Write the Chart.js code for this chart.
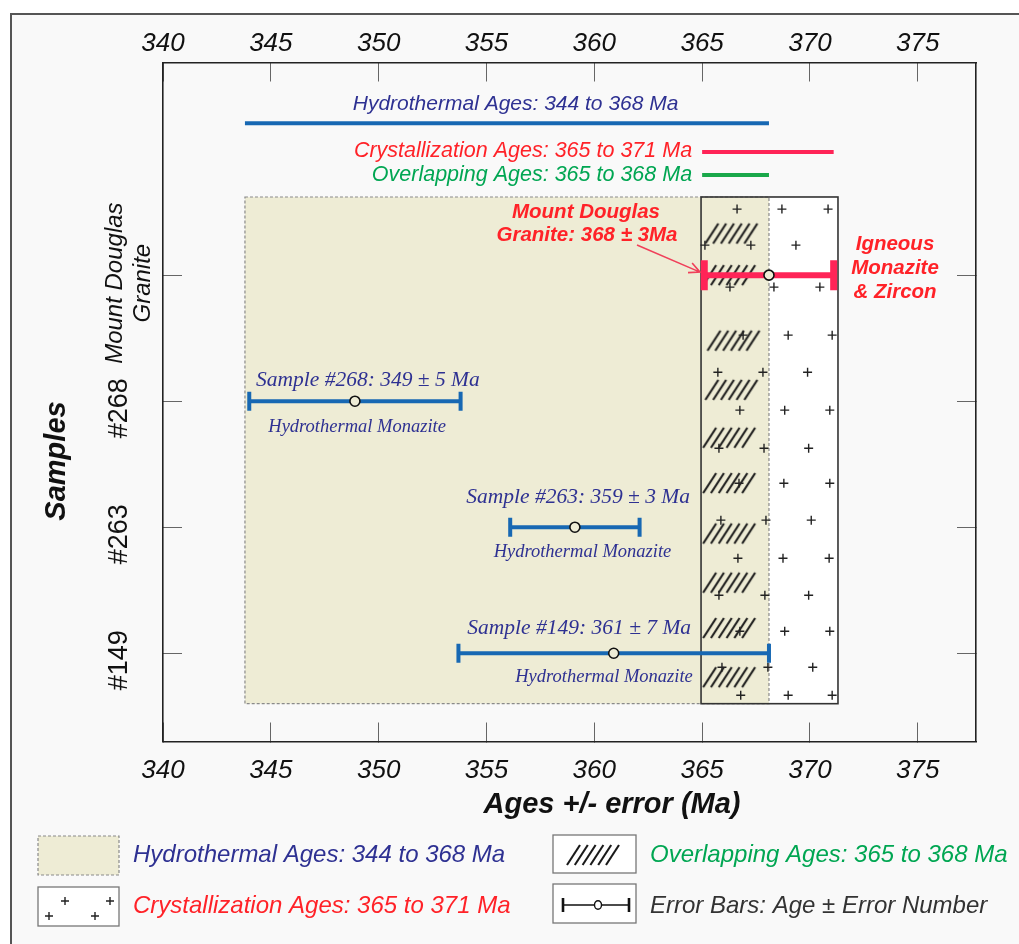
<!DOCTYPE html>
<html>
<head>
<meta charset="utf-8">
<title>Mount Douglas Granite ages</title>
<script src="https://cdn.jsdelivr.net/npm/chart.js@4.4.0/dist/chart.umd.min.js"></script>
<style>
  html, body { margin: 0; padding: 0; background: #fff; }
  canvas { display: block; }
</style>
</head>
<body>
<canvas id="age-chart" width="1019" height="944"></canvas>
<script>
// Axis ticks
const xTicks = [340, 345, 350, 355, 360, 365, 370, 375];
const rowTicks = [1, 2, 3, 4];
const rowLabels = ['#149', '#263', '#268', ['Mount Douglas', 'Granite']];

// Samples: Mount Douglas Granite, #268, #263, #149
const sampleRow = [4, 3, 2, 1];
const sampleAge = [368.1, 348.9, 359.1, 360.9];
const sampleErr = [3.0, 4.9, 3.0, 7.2];

// Age ranges (Ma)
const hydroRange = [343.8, 368.1];
const crystRange = [365.0, 371.1];
const overlapRange = [365.0, 368.1];
const rangeRow = [5.206, 4.976, 4.794];   // hydro, cryst, overlap lines

// Shaded boxes
const hydroBox = [343.8, 368.1];
const crystBox = [364.95, 371.3];
const boxRows = [0.60, 4.62];

// "//////" clusters in the overlap column
const hatchX = [366.4, 366.3, 366.5, 366.4, 366.3, 366.3, 366.3, 366.3, 366.3, 366.3];
const hatchY = [4.33, 4.00, 3.48, 3.09, 2.71, 2.35, 1.95, 1.56, 1.20, 0.81];

// "+" marks in the crystallization box
const crossX = [
  366.62, 368.70, 370.84,
  365.13, 367.26, 369.35,
  366.29, 368.33, 370.46,
  366.90, 368.99, 371.03,
  365.73, 367.82, 369.89,
  366.75, 368.83, 370.92,
  365.78, 367.87, 369.94,
  366.71, 368.79, 370.92,
  365.87, 367.96, 370.06,
  366.66, 368.75, 370.89,
  365.78, 367.91, 369.94,
  366.75, 368.83, 370.92,
  365.92, 368.05, 370.13,
  366.79, 368.99, 371.03
];
const crossY = [
  4.524, 4.524, 4.524,
  4.238, 4.238, 4.238,
  3.905, 3.905, 3.905,
  3.524, 3.524, 3.524,
  3.230, 3.230, 3.230,
  2.929, 2.929, 2.929,
  2.627, 2.627, 2.627,
  2.349, 2.349, 2.349,
  2.056, 2.056, 2.056,
  1.754, 1.754, 1.754,
  1.460, 1.460, 1.460,
  1.175, 1.175, 1.175,
  0.889, 0.889, 0.889,
  0.667, 0.667, 0.667
];

const NAVY = '#2e3192';
const BLUE = '#1768b3';
const RED_TXT = '#ff2228';
const RED_BAR = '#ff2457';
const GREEN_TXT = '#00a652';
const GREEN_LINE = '#1aa84a';
const BEIGE = '#eeecd5';
const BG = '#f9f9f9';
const SANS = '"Liberation Sans", Arial, sans-serif';
const SERIF = '"Liberation Serif", "Times New Roman", serif';

function makeHatch() {
  const c = document.createElement('canvas');
  c.width = 58; c.height = 24;
  const g = c.getContext('2d');
  g.strokeStyle = '#1a1a1a';
  g.lineWidth = 2.1;
  for (let i = 0; i < 6; i++) {
    const x0 = 2 + i * 7.8;
    g.beginPath();
    g.moveTo(x0, 22);
    g.lineTo(x0 + 13, 2);
    g.stroke();
  }
  return c;
}
const hatchImg = makeHatch();

function txt(ctx, s, x, y, font, color, align) {
  ctx.font = font;
  ctx.fillStyle = color;
  ctx.textAlign = align || 'center';
  ctx.textBaseline = 'middle';
  ctx.fillText(s, x, y);
}
function rtxt(ctx, s, x, y, font, color) {
  ctx.save();
  ctx.translate(x, y);
  ctx.rotate(-Math.PI / 2);
  txt(ctx, s, 0, 0, font, color);
  ctx.restore();
}

// error bar datasets
const barSets = sampleAge.map((a, i) => {
  const igneous = i === 0;
  const c = igneous ? RED_BAR : BLUE;
  return {
    type: 'line',
    data: [{ x: a - sampleErr[i], y: sampleRow[i] }, { x: a + sampleErr[i], y: sampleRow[i] }],
    borderColor: c,
    borderWidth: igneous ? 6 : 4,
    pointStyle: 'line',
    pointRotation: 90,
    pointRadius: igneous ? 15 : 9.5,
    pointBorderWidth: igneous ? 7 : 4,
    pointBorderColor: c,
    borderCapStyle: 'butt'
  };
});

function rangeLine(range, row, color) {
  return {
    type: 'line',
    data: [{ x: range[0], y: row }, { x: range[1], y: row }],
    borderColor: color,
    borderWidth: 4,
    pointRadius: 0
  };
}

const frame = {
  id: 'frame',
  beforeDraw(chart) {
    const ctx = chart.ctx;
    ctx.save();
    ctx.fillStyle = '#fff';
    ctx.fillRect(0, 0, chart.width, chart.height);
    ctx.fillStyle = BG;
    ctx.fillRect(11, 14, chart.width, chart.height);
    ctx.strokeStyle = '#555';
    ctx.lineWidth = 2;
    ctx.strokeRect(11, 14, chart.width + 20, chart.height + 20);
    ctx.restore();
  },
  beforeDatasetsDraw(chart) {
    const ctx = chart.ctx, xs = chart.scales.x, ys = chart.scales.y;
    const top = ys.getPixelForValue(boxRows[1]), bot = ys.getPixelForValue(boxRows[0]);
    const cx0 = xs.getPixelForValue(crystBox[0]), cx1 = xs.getPixelForValue(crystBox[1]);
    const hx0 = xs.getPixelForValue(hydroBox[0]), hx1 = xs.getPixelForValue(hydroBox[1]);
    ctx.save();
    ctx.fillStyle = '#fff';
    ctx.fillRect(cx0, top, cx1 - cx0, bot - top);
    ctx.fillStyle = BEIGE;
    ctx.fillRect(hx0, top, hx1 - hx0, bot - top);
    ctx.setLineDash([3, 2]);
    ctx.strokeStyle = '#8a8a8a';
    ctx.lineWidth = 1.2;
    ctx.strokeRect(hx0, top, hx1 - hx0, bot - top);
    ctx.setLineDash([]);
    ctx.strokeStyle = '#333';
    ctx.lineWidth = 1.6;
    ctx.strokeRect(cx0, top, cx1 - cx0, bot - top);
    ctx.restore();
  },
  afterDatasetsDraw(chart) {
    const ctx = chart.ctx, xs = chart.scales.x, ys = chart.scales.y;
    const px = v => xs.getPixelForValue(v), py = v => ys.getPixelForValue(v);
    ctx.save();
    // range labels
    txt(ctx, 'Hydrothermal Ages: 344 to 368 Ma', px(356.35), py(rangeRow[0]) - 19, 'italic 21px ' + SANS, NAVY);
    txt(ctx, 'Crystallization Ages: 365 to 371 Ma', px(crystRange[0]) - 10, py(rangeRow[1]) - 1, 'italic 21.5px ' + SANS, RED_TXT, 'right');
    txt(ctx, 'Overlapping Ages: 365 to 368 Ma', px(overlapRange[0]) - 10, py(rangeRow[2]), 'italic 21.5px ' + SANS, GREEN_TXT, 'right');
    // sample labels
    const f1 = 'italic 21.5px ' + SERIF, f2 = 'italic 18.5px ' + SERIF;
    txt(ctx, 'Sample #268: 349 \u00b1 5 Ma', px(349.5), py(3) - 21, f1, NAVY);
    txt(ctx, 'Hydrothermal Monazite', px(349.0), py(3) + 26, f2, NAVY);
    txt(ctx, 'Sample #263: 359 \u00b1 3 Ma', px(359.25), py(2) - 30, f1, NAVY);
    txt(ctx, 'Hydrothermal Monazite', px(359.45), py(2) + 25, f2, NAVY);
    txt(ctx, 'Sample #149: 361 \u00b1 7 Ma', px(359.3), py(1) - 25, f1, NAVY);
    txt(ctx, 'Hydrothermal Monazite', px(360.45), py(1) + 24, f2, NAVY);
    // igneous labels
    const fb = 'italic bold 20.5px ' + SANS;
    txt(ctx, 'Mount Douglas', 586, 212, fb, RED_TXT);
    txt(ctx, 'Granite: 368 \u00b1 3Ma', 587, 235, fb, RED_TXT);
    txt(ctx, 'Igneous', 895, 244, fb, RED_TXT);
    txt(ctx, 'Monazite', 895, 268, fb, RED_TXT);
    txt(ctx, '& Zircon', 895, 292, fb, RED_TXT);
    // arrow
    const ax0 = 637, ay0 = 245, ax1 = 700, ay1 = py(4) - 3;
    const ang = Math.atan2(ay1 - ay0, ax1 - ax0);
    ctx.strokeStyle = '#f0405a';
    ctx.lineWidth = 1.6;
    ctx.beginPath();
    ctx.moveTo(ax0, ay0); ctx.lineTo(ax1, ay1);
    ctx.moveTo(ax1 - 12 * Math.cos(ang - 0.45), ay1 - 12 * Math.sin(ang - 0.45));
    ctx.lineTo(ax1, ay1);
    ctx.lineTo(ax1 - 12 * Math.cos(ang + 0.45), ay1 - 12 * Math.sin(ang + 0.45));
    ctx.stroke();
    ctx.restore();
  },
  afterDraw(chart) {
    const ctx = chart.ctx, ys = chart.scales.y;
    ctx.save();
    // y tick labels (rotated)
    rowTicks.forEach((v, i) => {
      const lab = rowLabels[i];
      const y = ys.getPixelForValue(v);
      if (Array.isArray(lab)) {
        rtxt(ctx, lab[0], 115, y + 8, 'italic 24px ' + SANS, '#111');
        rtxt(ctx, lab[1], 143, y + 8, 'italic 24px ' + SANS, '#111');
      } else {
        rtxt(ctx, lab, 120, y + 7, '27px ' + SANS, '#111');
      }
    });
    rtxt(ctx, 'Samples', 57, 461, 'italic bold 29px ' + SANS, '#111');
    txt(ctx, 'Ages +/- error (Ma)', 612, 805, 'italic bold 29px ' + SANS, '#111');

    // legend
    const lf = 'italic 24px ' + SANS;
    // hydrothermal box
    ctx.fillStyle = BEIGE;
    ctx.fillRect(38, 836, 81, 39);
    ctx.setLineDash([3, 2]);
    ctx.strokeStyle = '#8a8a8a';
    ctx.lineWidth = 1.2;
    ctx.strokeRect(38, 836, 81, 39);
    ctx.setLineDash([]);
    txt(ctx, 'Hydrothermal Ages: 344 to 368 Ma', 133, 855, lf, NAVY, 'left');
    // crystallization box
    ctx.fillStyle = '#fff';
    ctx.fillRect(38, 887, 81, 39);
    ctx.strokeStyle = '#777';
    ctx.lineWidth = 1.3;
    ctx.strokeRect(38, 887, 81, 39);
    ctx.strokeStyle = '#222';
    ctx.lineWidth = 1.4;
    [[65, 901], [110, 901], [49, 916], [95, 916]].forEach(([cx, cy]) => {
      ctx.beginPath();
      ctx.moveTo(cx - 4, cy); ctx.lineTo(cx + 4, cy);
      ctx.moveTo(cx, cy - 4); ctx.lineTo(cx, cy + 4);
      ctx.stroke();
    });
    txt(ctx, 'Crystallization Ages: 365 to 371 Ma', 133, 906, lf, RED_TXT, 'left');
    // overlap box
    ctx.fillStyle = '#fff';
    ctx.fillRect(553, 835, 83, 38);
    ctx.strokeStyle = '#777';
    ctx.lineWidth = 1.3;
    ctx.strokeRect(553, 835, 83, 38);
    ctx.drawImage(hatchImg, 565, 843);
    txt(ctx, 'Overlapping Ages: 365 to 368 Ma', 650, 855, lf, GREEN_TXT, 'left');
    // error bar box
    ctx.fillStyle = '#fff';
    ctx.fillRect(553, 884, 83, 39);
    ctx.strokeStyle = '#777';
    ctx.strokeRect(553, 884, 83, 39);
    ctx.strokeStyle = '#111';
    ctx.lineWidth = 1.6;
    ctx.beginPath();
    ctx.moveTo(563, 905); ctx.lineTo(594, 905);
    ctx.moveTo(602, 905); ctx.lineTo(629, 905);
    ctx.stroke();
    ctx.lineWidth = 2.6;
    ctx.beginPath();
    ctx.moveTo(563, 898); ctx.lineTo(563, 912);
    ctx.moveTo(629, 898); ctx.lineTo(629, 912);
    ctx.stroke();
    ctx.lineWidth = 1.4;
    ctx.beginPath();
    ctx.ellipse(598, 905, 3.5, 4.2, 0, 0, Math.PI * 2);
    ctx.stroke();
    txt(ctx, 'Error Bars: Age \u00b1 Error Number', 650, 906, lf, '#333', 'left');
    ctx.restore();
  }
};

const xAxisBase = (position, pad, h) => ({
  type: 'linear',
  position: position,
  min: 340,
  max: 377.7,
  afterBuildTicks: s => { s.ticks = xTicks.map(v => ({ value: v })); },
  afterFit: s => { s.height = h; },
  ticks: {
    font: { family: SANS, size: 26, style: 'italic' },
    color: '#111',
    padding: pad,
    maxRotation: 0,
    autoSkip: false
  },
  grid: { drawOnChartArea: false, drawTicks: true, tickLength: -19, color: '#666', lineWidth: 1 },
  border: { display: true, color: '#222', width: 1.6 }
});

const yAxisBase = (position, w) => ({
  type: 'linear',
  position: position,
  min: 0.30,
  max: 5.687,
  afterBuildTicks: s => { s.ticks = rowTicks.map(v => ({ value: v })); },
  afterFit: s => { s.width = w; },
  ticks: { display: false },
  grid: { drawOnChartArea: false, drawTicks: true, tickLength: -19, color: '#666', lineWidth: 1 },
  border: { display: true, color: '#222', width: 1.6 }
});

new Chart(document.getElementById('age-chart').getContext('2d'), {
  type: 'scatter',
  data: {
    datasets: [
      {
        data: sampleAge.map((a, i) => ({ x: a, y: sampleRow[i] })),
        pointStyle: 'circle',
        pointRadius: 5,
        pointBorderWidth: 1.6,
        pointBorderColor: '#111',
        pointBackgroundColor: BEIGE
      },
      ...barSets,
      rangeLine(hydroRange, rangeRow[0], BLUE),
      rangeLine(crystRange, rangeRow[1], RED_BAR),
      rangeLine(overlapRange, rangeRow[2], GREEN_LINE),
      {
        data: crossX.map((x, i) => ({ x: x, y: crossY[i] })),
        pointStyle: 'cross',
        pointRadius: 4.5,
        pointBorderWidth: 1.4,
        pointBorderColor: '#222'
      },
      {
        data: hatchX.map((x, i) => ({ x: x, y: hatchY[i] })),
        pointStyle: hatchImg,
        pointRadius: 10
      }
    ]
  },
  options: {
    responsive: false,
    animation: false,
    events: [],
    layout: { padding: { left: 14, right: 43, top: 14, bottom: 122.5 } },
    plugins: { legend: { display: false }, tooltip: { enabled: false } },
    scales: {
      x: xAxisBase('bottom', 33, 80),
      x2: xAxisBase('top', 22, 48.5),
      y: yAxisBase('left', 149),
      y2: yAxisBase('right', 0)
    }
  },
  plugins: [frame]
});
</script>
</body>
</html>
